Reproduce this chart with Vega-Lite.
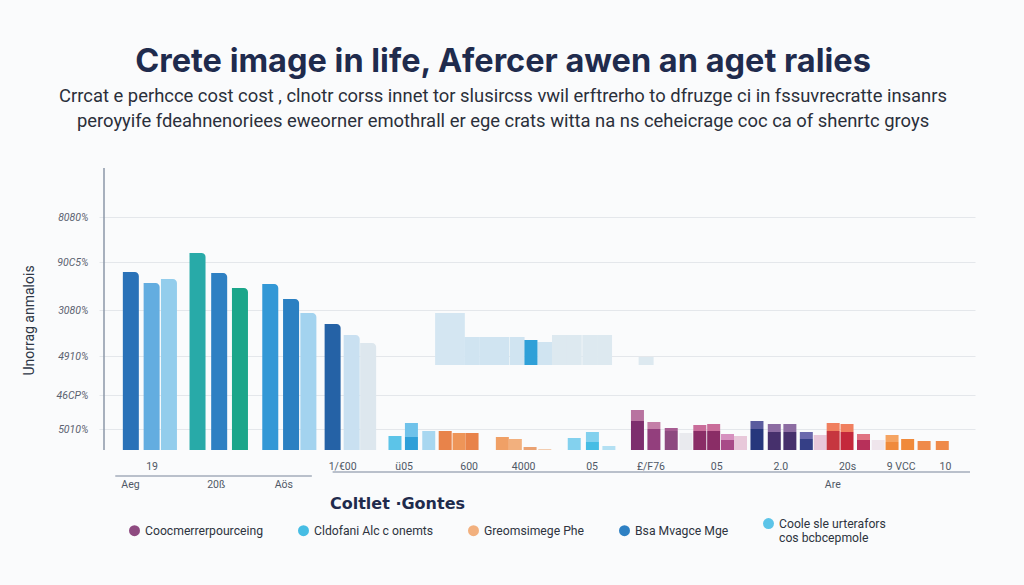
{
  "$schema": "https://vega.github.io/schema/vega-lite/v6.json",
  "width": 876,
  "height": 280,
  "autosize": {"type": "none"},
  "padding": {"left": 99, "top": 170, "right": 49, "bottom": 135},
  "background": "#fafbfc",
  "config": {"view": {"stroke": null}, "font": "Roboto"},
  "title": {
    "text": "Crete image in life, Afercer awen an aget ralies",
    "subtitle": [
      "Crrcat e perhcce cost cost , clnotr corss innet tor slusircss vwil erftrerho to dfruzge ci in fssuvrecratte insanrs",
      "peroyyife fdeahnenoriees eweorner emothrall er ege crats witta na ns ceheicrage coc ca of shenrtc groys"
    ],
    "anchor": "middle",
    "frame": "group",
    "dx": -34,
    "offset": 37,
    "font": "Inter",
    "fontSize": 32.5,
    "fontWeight": "bold",
    "color": "#1f2b4d",
    "subtitleFont": "Roboto",
    "subtitleFontSize": 18.4,
    "subtitleColor": "#2a2f3a",
    "subtitleLineHeight": 25,
    "subtitlePadding": 8
  },
  "datasets": {
    "bars": [
      {"x": 3.1, "lo": 0, "hi": 178, "s": "t01", "k": "big"},
      {"x": 5.5, "lo": 0, "hi": 167, "s": "t02", "k": "big"},
      {"x": 7.5, "lo": 0, "hi": 171, "s": "t03", "k": "big"},
      {"x": 10.8, "lo": 0, "hi": 197, "s": "t04", "k": "big"},
      {"x": 13.3, "lo": 0, "hi": 177, "s": "Bsa Mvagce Mge", "k": "big"},
      {"x": 15.7, "lo": 0, "hi": 162, "s": "t06", "k": "big"},
      {"x": 19.2, "lo": 0, "hi": 166, "s": "t07", "k": "big"},
      {"x": 21.6, "lo": 0, "hi": 151, "s": "t08", "k": "big"},
      {"x": 23.6, "lo": 0, "hi": 137, "s": "t09", "k": "big"},
      {"x": 26.4, "lo": 0, "hi": 126, "s": "t10", "k": "big"},
      {"x": 28.6, "lo": 0, "hi": 115, "s": "t11", "k": "big"},
      {"x": 30.5, "lo": 0, "hi": 107, "s": "t12", "k": "big"},

      {"x": 39.1, "lo": 85, "hi": 137, "s": "f1", "k": "float"},
      {"x": 40.8, "lo": 85, "hi": 137, "s": "f1", "k": "float"},
      {"x": 42.5, "lo": 85, "hi": 113, "s": "f2", "k": "float"},
      {"x": 44.2, "lo": 85, "hi": 113, "s": "f2", "k": "float"},
      {"x": 45.9, "lo": 85, "hi": 113, "s": "f2", "k": "float"},
      {"x": 47.7, "lo": 85, "hi": 113, "s": "f2", "k": "float"},
      {"x": 50.9, "lo": 85, "hi": 108, "s": "f2", "k": "float"},
      {"x": 52.6, "lo": 85, "hi": 115, "s": "f4", "k": "float"},
      {"x": 54.3, "lo": 85, "hi": 115, "s": "f4", "k": "float"},
      {"x": 56.1, "lo": 85, "hi": 115, "s": "f4", "k": "float"},
      {"x": 57.8, "lo": 85, "hi": 115, "s": "f4", "k": "float"},
      {"x": 62.6, "lo": 85, "hi": 93, "s": "f4", "k": "float"},
      {"x": 49.3, "lo": 85, "hi": 110, "s": "f3", "k": "small"},

      {"x": 33.6, "lo": 0, "hi": 14, "s": "Coole sle urterafors", "k": "small"},
      {"x": 35.5, "lo": 0, "hi": 13, "s": "c01", "k": "small"},
      {"x": 35.5, "lo": 13, "hi": 27, "s": "c02", "k": "small"},
      {"x": 37.5, "lo": 0, "hi": 19, "s": "c03", "k": "small"},
      {"x": 39.4, "lo": 0, "hi": 19, "s": "c04", "k": "small"},
      {"x": 41.0, "lo": 0, "hi": 17, "s": "c05", "k": "small"},
      {"x": 42.5, "lo": 0, "hi": 17, "s": "c04", "k": "small"},
      {"x": 46.0, "lo": 0, "hi": 13, "s": "c06", "k": "small"},
      {"x": 47.5, "lo": 0, "hi": 11, "s": "Greomsimege Phe", "k": "small"},
      {"x": 49.2, "lo": 0, "hi": 3, "s": "c08", "k": "small"},
      {"x": 50.9, "lo": 0, "hi": 1, "s": "c09", "k": "small"},
      {"x": 54.3, "lo": 0, "hi": 12, "s": "c10", "k": "small"},
      {"x": 56.4, "lo": 0, "hi": 8, "s": "Cldofani Alc c onemts", "k": "small"},
      {"x": 56.4, "lo": 8, "hi": 18, "s": "c10", "k": "small"},
      {"x": 58.3, "lo": 0, "hi": 4, "s": "c12", "k": "small"},
      {"x": 61.6, "lo": 0, "hi": 29, "s": "c13", "k": "small"},
      {"x": 61.6, "lo": 29, "hi": 40, "s": "c14", "k": "small"},
      {"x": 63.5, "lo": 0, "hi": 21, "s": "c17", "k": "small"},
      {"x": 63.5, "lo": 21, "hi": 28, "s": "c16", "k": "small"},
      {"x": 65.5, "lo": 0, "hi": 19, "s": "Coocmerrerpourceing", "k": "small"},
      {"x": 65.5, "lo": 19, "hi": 22, "s": "c18", "k": "small"},
      {"x": 67.2, "lo": 0, "hi": 17, "s": "c19", "k": "small"},
      {"x": 68.8, "lo": 0, "hi": 19, "s": "c20", "k": "small"},
      {"x": 68.8, "lo": 19, "hi": 25, "s": "c21", "k": "small"},
      {"x": 70.4, "lo": 0, "hi": 19, "s": "c20", "k": "small"},
      {"x": 70.4, "lo": 19, "hi": 26, "s": "c21", "k": "small"},
      {"x": 72.0, "lo": 0, "hi": 10, "s": "c22", "k": "small"},
      {"x": 72.0, "lo": 10, "hi": 16, "s": "c23", "k": "small"},
      {"x": 73.5, "lo": 0, "hi": 14, "s": "c24", "k": "small"},
      {"x": 75.4, "lo": 0, "hi": 21, "s": "c25", "k": "small"},
      {"x": 75.4, "lo": 21, "hi": 29, "s": "c26", "k": "small"},
      {"x": 77.4, "lo": 0, "hi": 18, "s": "c27", "k": "small"},
      {"x": 77.4, "lo": 18, "hi": 26, "s": "c28", "k": "small"},
      {"x": 79.2, "lo": 0, "hi": 18, "s": "c27", "k": "small"},
      {"x": 79.2, "lo": 18, "hi": 26, "s": "c28", "k": "small"},
      {"x": 81.1, "lo": 0, "hi": 11, "s": "c29", "k": "small"},
      {"x": 81.1, "lo": 11, "hi": 18, "s": "c30", "k": "small"},
      {"x": 82.7, "lo": 0, "hi": 15, "s": "c24", "k": "small"},
      {"x": 84.2, "lo": 0, "hi": 19, "s": "c31", "k": "small"},
      {"x": 84.2, "lo": 19, "hi": 27, "s": "c32", "k": "small"},
      {"x": 85.8, "lo": 0, "hi": 18, "s": "c33", "k": "small"},
      {"x": 85.8, "lo": 18, "hi": 26, "s": "c32", "k": "small"},
      {"x": 87.7, "lo": 0, "hi": 10, "s": "c34", "k": "small"},
      {"x": 87.7, "lo": 10, "hi": 16, "s": "c35", "k": "small"},
      {"x": 89.4, "lo": 0, "hi": 10, "s": "c36", "k": "small"},
      {"x": 91.0, "lo": 0, "hi": 8, "s": "c37", "k": "small"},
      {"x": 91.0, "lo": 8, "hi": 15, "s": "c38", "k": "small"},
      {"x": 92.8, "lo": 0, "hi": 11, "s": "c37", "k": "small"},
      {"x": 94.7, "lo": 0, "hi": 9, "s": "c39", "k": "small"},
      {"x": 96.8, "lo": 0, "hi": 9, "s": "c39", "k": "small"}
    ],
    "axisline": [{"from": 0, "to": 282}],
    "baseline": [{"a": 1.3, "b": 24, "y": -26}, {"a": 26.4, "b": 100, "y": -22}]
  },
  "layer": [
    {
      "data": {"name": "bars"},
      "transform": [{"filter": "datum.k == 'float'"}],
      "mark": {"type": "bar", "size": 15},
      "encoding": {
        "x": {
          "field": "x",
          "type": "quantitative",
          "scale": {"domain": [0, 100], "nice": false, "zero": false},
          "axis": {
            "values": [3, 5.5, 12.9, 20.7, 27.5, 34.6, 42.1, 48.4, 56.3, 63.1, 70.7, 78.1, 84.1, 85.8, 92, 97.1],
            "labelExpr": "[[' ','Aeg'],'19',[' ','20ß'],[' ','Aös'],'1/€00','ü05','600','4000','05','£/F76','05','2.0',[' ','Are'],'20s','9 VCC','10'][indexof([3,5.5,12.9,20.7,27.5,34.6,42.1,48.4,56.3,63.1,70.7,78.1,84.1,85.8,92,97.1], datum.value)]",
            "domain": false,
            "ticks": false,
            "grid": false,
            "offset": 11,
            "labelPadding": 0,
            "labelBaseline": "top",
            "labelLineHeight": 18,
            "labelFontSize": 10.5,
            "labelColor": "#4f5866",
            "labelOverlap": false,
            "labelFlush": false,
            "labelBound": false,
            "labelAngle": 0,
            "title": "Coltlet ·Gontes",
            "titleX": 298,
            "titleY": 42,
            "titleAlign": "center",
            "titleBaseline": "middle",
            "titleAngle": 0,
            "titleFont": "DejaVu Sans",
            "titleFontSize": 16,
            "titleFontWeight": "bold",
            "titleColor": "#1f2b4d"
          }
        },
        "y": {
          "field": "hi",
          "type": "quantitative",
          "scale": {"domain": [0, 280], "nice": false},
          "axis": {
            "values": [21, 55, 94, 140, 188, 233],
            "labelExpr": "['5010%','46CP%','4910%','3080%','90C5%','8080%'][indexof([21,55,94,140,188,233], datum.value)]",
            "grid": true,
            "gridColor": "#e4e7eb",
            "domain": false,
            "ticks": false,
            "labelFontStyle": "italic",
            "labelFontSize": 10.5,
            "labelColor": "#5a6270",
            "labelPadding": 11,
            "title": "Unorrag anmalois",
            "titleFontSize": 14,
            "titleFontWeight": "normal",
            "titleColor": "#2d3645",
            "titleX": -70,
            "titleY": 150,
            "titleAngle": -90,
            "titleAlign": "center",
            "titleBaseline": "middle"
          }
        },
        "y2": {"field": "lo"},
        "color": {
          "field": "s",
          "type": "nominal",
          "scale": {
            "domain": ["Coocmerrerpourceing", "Cldofani Alc c onemts", "Greomsimege Phe", "Bsa Mvagce Mge", "Coole sle urterafors",
              "t01", "t02", "t03", "t04", "t06", "t07", "t08", "t09", "t10", "t11", "t12",
              "f1", "f2", "f3", "f4",
              "c01", "c02", "c03", "c04", "c05", "c06", "c08", "c09", "c10", "c12", "c13", "c14", "c16", "c17", "c18", "c19", "c20", "c21", "c22", "c23", "c24", "c25", "c26", "c27", "c28", "c29", "c30", "c31", "c32", "c33", "c34", "c35", "c36", "c37", "c38", "c39"],
            "range": ["#8e4a80", "#46bde4", "#f2b07e", "#2e80c3", "#5cc4e8",
              "#2a72b8", "#63ade0", "#93cdec", "#28aaa8", "#1ba68a", "#3398d6", "#2b80c2", "#a3d3ef", "#2562a6", "#c9e0f1", "#dde7ee",
              "#d4e6f2", "#d0e4f1", "#2fa0d8", "#dde9f0",
              "#2f9fd8", "#6fc2ea", "#a8d7f0", "#e8834a", "#ee9558", "#f0a066", "#eaa272", "#f3cdb0", "#83d1ee", "#b3e0f3", "#7d2e6e", "#b873a0", "#c47fa8", "#933f7d", "#a65c92", "#e9eaee", "#8a2d66", "#c96d9a", "#a84a88", "#d690bf", "#e8c8da", "#26377c", "#5a5c9e", "#46306c", "#8c6ca2", "#353f86", "#6b69ad", "#c6363f", "#f07f5f", "#c4283b", "#b7305a", "#e07482", "#efe5ec", "#f08a3b", "#f5a462", "#ef8a4a"]
          },
          "legend": {
            "values": ["Coocmerrerpourceing", "Cldofani Alc c onemts", "Greomsimege Phe", "Bsa Mvagce Mge", "Coole sle urterafors"],
            "labelExpr": "datum.label == 'Coole sle urterafors' ? ['Coole sle urterafors', 'cos bcbcepmole'] : datum.label",
            "orient": "none",
            "legendX": 29,
            "legendY": 347,
            "direction": "horizontal",
            "title": null,
            "symbolType": "circle",
            "symbolSize": 120,
            "labelFont": "Roboto",
            "labelFontSize": 12.2,
            "labelColor": "#2e3440",
            "labelLineHeight": 16,
            "columnPadding": 33,
            "labelLimit": 300
          }
        }
      }
    },
    {
      "data": {"name": "bars"},
      "transform": [{"filter": "datum.k == 'big'"}],
      "mark": {"type": "bar", "size": 16, "cornerRadiusTopRight": 4},
      "encoding": {
        "x": {"field": "x", "type": "quantitative"},
        "y": {"field": "hi", "type": "quantitative"},
        "y2": {"field": "lo"},
        "color": {"field": "s", "type": "nominal"}
      }
    },
    {
      "data": {"name": "bars"},
      "transform": [{"filter": "datum.k == 'small'"}],
      "mark": {"type": "bar", "size": 13},
      "encoding": {
        "x": {"field": "x", "type": "quantitative"},
        "y": {"field": "hi", "type": "quantitative"},
        "y2": {"field": "lo"},
        "color": {"field": "s", "type": "nominal"}
      }
    },
    {
      "data": {"name": "axisline"},
      "mark": {"type": "rule", "color": "#8b97a8", "strokeWidth": 1.5},
      "encoding": {
        "x": {"datum": 0, "type": "quantitative"},
        "y": {"field": "from", "type": "quantitative"},
        "y2": {"field": "to"}
      }
    },
    {
      "data": {"name": "baseline"},
      "mark": {"type": "rule", "color": "#a3adbb", "strokeWidth": 1.5},
      "encoding": {
        "x": {"field": "a", "type": "quantitative"},
        "x2": {"field": "b"},
        "y": {"field": "y", "type": "quantitative"},
        "y2": {"field": "y"}
      }
    }
  ]
}
